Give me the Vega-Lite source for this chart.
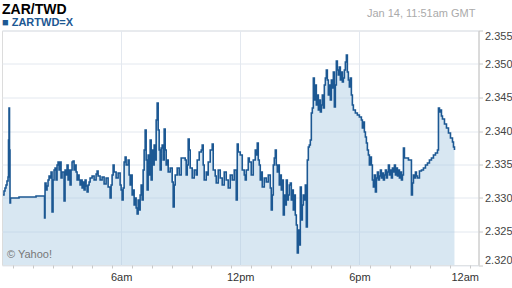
{
 "$schema": "https://vega.github.io/schema/vega-lite/v6.json",
 "width": 476.5,
 "height": 234.5,
 "autosize": {"type": "none"},
 "padding": {"left": 2, "top": 30.5, "right": 33.5, "bottom": 23},
 "background": "white",
 "config": {"view": {"stroke": "#dcdcdc"}, "font": "Liberation Sans"},
 "title": {"text": "ZAR/TWD", "subtitle": "■ ZARTWD=X", "anchor": "start", "frame": "group", "font": "Liberation Sans", "fontSize": 14, "fontWeight": "bold", "color": "#000000", "subtitleFont": "Liberation Sans", "subtitleFontSize": 11, "subtitleFontWeight": "bold", "subtitleColor": "#1c5893", "subtitlePadding": 0, "offset": -20},
 "data": {"values": [
{"t":0.050,"v":2.33045},{"t":0.101,"v":2.33104},{"t":0.151,"v":2.33149},{"t":0.202,"v":2.33194},{"t":0.252,"v":2.33254},{"t":0.303,"v":2.33313},{"t":0.328,"v":2.33866},{"t":0.353,"v":2.34343},{"t":0.378,"v":2.33716},{"t":0.403,"v":2.32925},{"t":0.429,"v":2.33000},{"t":0.857,"v":2.33015},{"t":1.714,"v":2.33030},{"t":2.143,"v":2.32701},{"t":2.168,"v":2.33224},{"t":2.219,"v":2.33119},{"t":2.269,"v":2.33179},{"t":2.319,"v":2.33269},{"t":2.370,"v":2.33328},{"t":2.420,"v":2.33299},{"t":2.471,"v":2.33388},{"t":2.521,"v":2.32791},{"t":2.571,"v":2.33269},{"t":2.622,"v":2.33418},{"t":2.672,"v":2.33448},{"t":2.723,"v":2.33269},{"t":2.773,"v":2.33493},{"t":2.824,"v":2.33537},{"t":2.874,"v":2.33418},{"t":2.924,"v":2.33537},{"t":2.975,"v":2.33299},{"t":3.025,"v":2.33388},{"t":3.126,"v":2.32955},{"t":3.176,"v":2.33418},{"t":3.227,"v":2.33343},{"t":3.277,"v":2.33493},{"t":3.328,"v":2.33269},{"t":3.378,"v":2.33418},{"t":3.429,"v":2.33194},{"t":3.479,"v":2.33418},{"t":3.529,"v":2.33537},{"t":3.580,"v":2.33552},{"t":3.630,"v":2.33418},{"t":3.681,"v":2.33493},{"t":3.731,"v":2.33388},{"t":3.782,"v":2.33269},{"t":3.832,"v":2.33343},{"t":3.882,"v":2.33269},{"t":3.933,"v":2.33194},{"t":3.983,"v":2.33269},{"t":4.034,"v":2.33149},{"t":4.084,"v":2.33239},{"t":4.134,"v":2.33119},{"t":4.185,"v":2.33269},{"t":4.235,"v":2.33179},{"t":4.286,"v":2.33090},{"t":4.336,"v":2.33194},{"t":4.387,"v":2.33239},{"t":4.437,"v":2.33299},{"t":4.538,"v":2.33328},{"t":4.639,"v":2.33269},{"t":4.739,"v":2.33358},{"t":4.790,"v":2.33403},{"t":4.840,"v":2.33328},{"t":4.941,"v":2.33269},{"t":5.042,"v":2.33313},{"t":5.143,"v":2.33209},{"t":5.244,"v":2.33299},{"t":5.345,"v":2.33164},{"t":5.445,"v":2.33000},{"t":5.496,"v":2.33194},{"t":5.546,"v":2.33343},{"t":5.597,"v":2.33493},{"t":5.647,"v":2.33388},{"t":5.748,"v":2.33299},{"t":5.849,"v":2.33373},{"t":5.950,"v":2.33194},{"t":6.000,"v":2.33119},{"t":6.050,"v":2.32970},{"t":6.101,"v":2.33149},{"t":6.151,"v":2.33537},{"t":6.202,"v":2.33612},{"t":6.252,"v":2.33493},{"t":6.353,"v":2.33567},{"t":6.403,"v":2.33343},{"t":6.454,"v":2.33194},{"t":6.504,"v":2.33343},{"t":6.555,"v":2.33045},{"t":6.605,"v":2.33119},{"t":6.655,"v":2.32896},{"t":6.706,"v":2.33000},{"t":6.756,"v":2.32851},{"t":6.807,"v":2.32761},{"t":6.857,"v":2.32970},{"t":6.908,"v":2.32821},{"t":6.958,"v":2.33045},{"t":7.008,"v":2.33194},{"t":7.059,"v":2.32970},{"t":7.109,"v":2.33418},{"t":7.160,"v":2.33716},{"t":7.210,"v":2.34015},{"t":7.261,"v":2.33567},{"t":7.311,"v":2.33119},{"t":7.361,"v":2.33642},{"t":7.412,"v":2.33343},{"t":7.462,"v":2.33866},{"t":7.513,"v":2.33269},{"t":7.563,"v":2.33716},{"t":7.613,"v":2.33493},{"t":7.664,"v":2.33791},{"t":7.714,"v":2.33567},{"t":7.765,"v":2.34164},{"t":7.815,"v":2.34418},{"t":7.866,"v":2.34015},{"t":7.916,"v":2.33716},{"t":7.966,"v":2.33418},{"t":8.017,"v":2.33746},{"t":8.067,"v":2.33791},{"t":8.118,"v":2.33567},{"t":8.168,"v":2.34030},{"t":8.219,"v":2.33716},{"t":8.269,"v":2.33493},{"t":8.319,"v":2.33567},{"t":8.370,"v":2.33388},{"t":8.471,"v":2.33448},{"t":8.571,"v":2.33239},{"t":8.622,"v":2.32866},{"t":8.672,"v":2.33194},{"t":8.723,"v":2.33343},{"t":8.824,"v":2.33448},{"t":8.924,"v":2.33343},{"t":9.025,"v":2.33597},{"t":9.126,"v":2.33597},{"t":9.227,"v":2.33567},{"t":9.277,"v":2.33343},{"t":9.328,"v":2.33493},{"t":9.378,"v":2.33881},{"t":9.429,"v":2.33716},{"t":9.479,"v":2.33448},{"t":9.580,"v":2.33299},{"t":9.681,"v":2.33418},{"t":9.782,"v":2.33343},{"t":9.832,"v":2.33567},{"t":9.933,"v":2.33687},{"t":10.034,"v":2.33716},{"t":10.084,"v":2.33791},{"t":10.134,"v":2.33493},{"t":10.185,"v":2.33269},{"t":10.286,"v":2.33388},{"t":10.336,"v":2.33343},{"t":10.387,"v":2.33537},{"t":10.487,"v":2.33716},{"t":10.588,"v":2.33806},{"t":10.639,"v":2.33418},{"t":10.740,"v":2.33328},{"t":10.790,"v":2.33224},{"t":10.891,"v":2.33418},{"t":10.992,"v":2.33299},{"t":11.092,"v":2.33194},{"t":11.193,"v":2.33388},{"t":11.294,"v":2.33269},{"t":11.395,"v":2.33149},{"t":11.496,"v":2.33343},{"t":11.597,"v":2.33269},{"t":11.697,"v":2.33418},{"t":11.798,"v":2.32970},{"t":11.849,"v":2.33806},{"t":11.899,"v":2.33687},{"t":12.000,"v":2.33642},{"t":12.101,"v":2.33418},{"t":12.202,"v":2.33343},{"t":12.252,"v":2.33269},{"t":12.303,"v":2.33418},{"t":12.403,"v":2.33597},{"t":12.454,"v":2.33537},{"t":12.555,"v":2.33343},{"t":12.655,"v":2.33567},{"t":12.756,"v":2.33716},{"t":12.807,"v":2.33642},{"t":12.857,"v":2.33821},{"t":12.908,"v":2.33567},{"t":12.958,"v":2.33493},{"t":13.008,"v":2.33269},{"t":13.059,"v":2.33388},{"t":13.109,"v":2.33164},{"t":13.210,"v":2.33299},{"t":13.311,"v":2.33239},{"t":13.412,"v":2.33343},{"t":13.513,"v":2.33149},{"t":13.563,"v":2.32821},{"t":13.613,"v":2.33045},{"t":13.664,"v":2.33493},{"t":13.714,"v":2.33597},{"t":13.765,"v":2.33716},{"t":13.815,"v":2.33493},{"t":13.866,"v":2.33388},{"t":13.916,"v":2.33493},{"t":13.966,"v":2.33194},{"t":14.017,"v":2.33343},{"t":14.067,"v":2.33119},{"t":14.118,"v":2.33269},{"t":14.168,"v":2.32746},{"t":14.219,"v":2.33045},{"t":14.269,"v":2.32896},{"t":14.319,"v":2.33269},{"t":14.370,"v":2.32970},{"t":14.420,"v":2.33045},{"t":14.471,"v":2.33194},{"t":14.521,"v":2.33224},{"t":14.571,"v":2.32970},{"t":14.622,"v":2.33119},{"t":14.672,"v":2.32821},{"t":14.723,"v":2.33045},{"t":14.773,"v":2.32746},{"t":14.824,"v":2.32597},{"t":14.874,"v":2.32179},{"t":14.924,"v":2.32522},{"t":14.975,"v":2.32299},{"t":15.025,"v":2.33164},{"t":15.076,"v":2.32672},{"t":15.126,"v":2.32896},{"t":15.176,"v":2.33045},{"t":15.227,"v":2.32970},{"t":15.277,"v":2.33194},{"t":15.328,"v":2.32567},{"t":15.378,"v":2.33567},{"t":15.429,"v":2.33761},{"t":15.479,"v":2.33791},{"t":15.529,"v":2.33866},{"t":15.580,"v":2.34269},{"t":15.630,"v":2.34343},{"t":15.681,"v":2.34791},{"t":15.731,"v":2.34463},{"t":15.782,"v":2.34687},{"t":15.832,"v":2.34388},{"t":15.882,"v":2.34537},{"t":15.933,"v":2.34313},{"t":15.983,"v":2.34463},{"t":16.034,"v":2.34284},{"t":16.084,"v":2.34388},{"t":16.134,"v":2.34537},{"t":16.185,"v":2.34343},{"t":16.235,"v":2.34687},{"t":16.286,"v":2.34791},{"t":16.336,"v":2.34910},{"t":16.387,"v":2.34761},{"t":16.437,"v":2.34537},{"t":16.487,"v":2.34687},{"t":16.538,"v":2.34463},{"t":16.588,"v":2.34761},{"t":16.639,"v":2.34642},{"t":16.689,"v":2.34881},{"t":16.740,"v":2.34358},{"t":16.790,"v":2.34687},{"t":16.840,"v":2.35045},{"t":16.891,"v":2.34910},{"t":16.941,"v":2.34836},{"t":16.992,"v":2.34955},{"t":17.042,"v":2.34761},{"t":17.092,"v":2.34881},{"t":17.143,"v":2.34731},{"t":17.193,"v":2.34791},{"t":17.244,"v":2.34910},{"t":17.294,"v":2.35030},{"t":17.345,"v":2.35134},{"t":17.395,"v":2.34881},{"t":17.445,"v":2.34761},{"t":17.496,"v":2.34657},{"t":17.546,"v":2.34791},{"t":17.597,"v":2.34537},{"t":17.647,"v":2.34388},{"t":17.697,"v":2.34313},{"t":17.798,"v":2.34269},{"t":17.899,"v":2.34239},{"t":18.000,"v":2.34209},{"t":18.101,"v":2.34164},{"t":18.151,"v":2.34045},{"t":18.202,"v":2.34134},{"t":18.252,"v":2.33985},{"t":18.303,"v":2.33910},{"t":18.353,"v":2.33821},{"t":18.403,"v":2.33716},{"t":18.454,"v":2.33642},{"t":18.504,"v":2.33493},{"t":18.555,"v":2.33612},{"t":18.605,"v":2.33493},{"t":18.655,"v":2.33269},{"t":18.706,"v":2.33164},{"t":18.756,"v":2.33343},{"t":18.807,"v":2.33090},{"t":18.857,"v":2.33299},{"t":18.908,"v":2.33388},{"t":18.958,"v":2.33269},{"t":19.008,"v":2.33328},{"t":19.059,"v":2.33418},{"t":19.109,"v":2.33299},{"t":19.160,"v":2.33373},{"t":19.210,"v":2.33269},{"t":19.261,"v":2.33343},{"t":19.311,"v":2.33418},{"t":19.361,"v":2.33299},{"t":19.412,"v":2.33388},{"t":19.462,"v":2.33493},{"t":19.513,"v":2.33343},{"t":19.563,"v":2.33418},{"t":19.613,"v":2.33299},{"t":19.664,"v":2.33448},{"t":19.714,"v":2.33388},{"t":19.765,"v":2.33493},{"t":19.815,"v":2.33343},{"t":19.866,"v":2.33448},{"t":19.916,"v":2.33328},{"t":19.966,"v":2.33418},{"t":20.017,"v":2.33299},{"t":20.067,"v":2.33388},{"t":20.118,"v":2.33269},{"t":20.168,"v":2.33343},{"t":20.219,"v":2.33746},{"t":20.269,"v":2.33597},{"t":20.370,"v":2.33597},{"t":20.471,"v":2.33567},{"t":20.571,"v":2.33567},{"t":20.622,"v":2.33045},{"t":20.672,"v":2.33224},{"t":20.723,"v":2.33343},{"t":20.773,"v":2.33299},{"t":20.824,"v":2.33388},{"t":20.874,"v":2.33328},{"t":20.924,"v":2.33299},{"t":21.025,"v":2.33403},{"t":21.126,"v":2.33418},{"t":21.227,"v":2.33448},{"t":21.328,"v":2.33493},{"t":21.429,"v":2.33522},{"t":21.529,"v":2.33567},{"t":21.630,"v":2.33597},{"t":21.731,"v":2.33642},{"t":21.832,"v":2.33672},{"t":21.933,"v":2.33716},{"t":21.983,"v":2.34343},{"t":22.034,"v":2.34284},{"t":22.084,"v":2.34313},{"t":22.134,"v":2.34224},{"t":22.185,"v":2.34179},{"t":22.286,"v":2.34104},{"t":22.387,"v":2.34045},{"t":22.487,"v":2.33970},{"t":22.588,"v":2.33896},{"t":22.689,"v":2.33836},{"t":22.740,"v":2.33761},{"t":22.790,"v":2.33716}
 ]},
 "layer": [
  {
   "mark": {"type": "area", "interpolate": "step-after", "color": "#a9c9e2", "opacity": 0.45},
   "encoding": {
    "x": {"field": "t", "type": "quantitative",
      "scale": {"domain": [0, 24], "nice": false, "zero": false},
      "axis": {"title": null, "tickCount": 200,
        "values": [0.55,1.55,2.55,3.55,4.55,5.55,6,6.55,7.55,8.55,9.55,10.55,11.55,12,12.55,13.55,14.55,15.55,16.55,17.55,18,18.55,19.55,20.55,21.55,22.55,23.55,24],
        "labelExpr": "datum.value === 6 ? '6am' : datum.value === 12 ? '12pm' : datum.value === 18 ? '6pm' : datum.value === 24 ? '12am' : ''",
        "labelFont": "Liberation Sans", "labelFontSize": 11, "labelColor": "#333333",
        "labelFlush": true, "labelOverlap": false, "labelPadding": 3,
        "tickSize": 3, "tickColor": "#c8c8c8",
        "tickOpacity": {"condition": {"test": "datum.value % 6 === 0", "value": 0}, "value": 1},
        "grid": true, "gridColor": "#e3e8ef",
        "gridOpacity": {"condition": {"test": "datum.value % 6 === 0 && datum.value < 24", "value": 1}, "value": 0},
        "domain": false}},
    "y": {"field": "v", "type": "quantitative",
      "scale": {"domain": [2.32, 2.355], "nice": false, "zero": false},
      "axis": {"orient": "right", "title": null, "tickCount": 200,
        "values": [2.32, 2.325, 2.33, 2.335, 2.34, 2.345, 2.35, 2.355],
        "format": ".3f", "labelFont": "Liberation Sans", "labelFontSize": 11, "labelColor": "#444444",
        "labelFlush": true, "labelOverlap": false, "labelPadding": 2, "tickSize": 4, "tickColor": "#c8c8c8",
        "domainColor": "#c8c8c8", "grid": true, "gridColor": "#e3e8ef"}},
    "y2": {"datum": 2.32}
   }
  },
  {
   "mark": {"type": "line", "interpolate": "step-after", "color": "#1c5893", "strokeWidth": 1.6},
   "encoding": {
    "x": {"field": "t", "type": "quantitative"},
    "y": {"field": "v", "type": "quantitative"}
   }
  },
  {
   "data": {"values": [{"label": "Jan 14, 11:51am GMT"}]},
   "mark": {"type": "text", "align": "right", "baseline": "middle", "font": "Liberation Sans", "fontSize": 11, "color": "#aaaaaa", "dx": -3},
   "encoding": {
    "x": {"datum": 24, "type": "quantitative"},
    "y": {"datum": 2.3575, "type": "quantitative"},
    "text": {"field": "label"}
   }
  },
  {
   "data": {"values": [{"label": "© Yahoo!"}]},
   "mark": {"type": "text", "align": "left", "baseline": "middle", "font": "Liberation Sans", "fontSize": 11, "color": "#777777"},
   "encoding": {
    "x": {"datum": 0.25, "type": "quantitative"},
    "y": {"datum": 2.3215, "type": "quantitative"},
    "text": {"field": "label"}
   }
  }
 ]
}
